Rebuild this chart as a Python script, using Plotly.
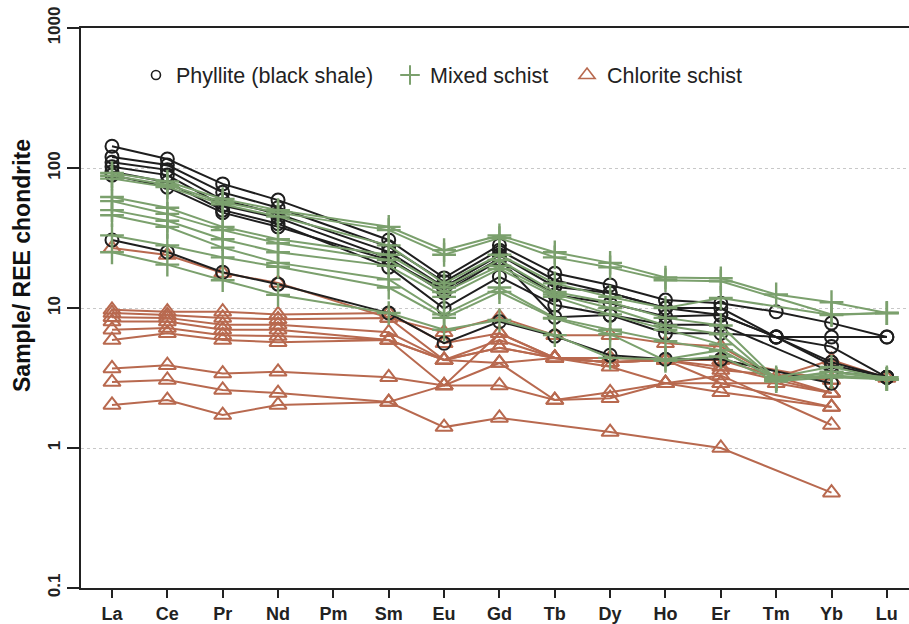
import plotly.graph_objects as go

elements = ["La", "Ce", "Pr", "Nd", "Pm", "Sm", "Eu", "Gd", "Tb", "Dy", "Ho", "Er", "Tm", "Yb", "Lu"]
x_pos = list(range(1, 16))

# Phyllite (black shale)
P1 = [143, 116, 77, 59, None, 30.6, 16.4, 28.1, 17.7, 14.6, 11.4, 10.8, 9.4, 7.8, 6.2]
P2 = [120, 105, 67, 52, None, 27.4, 15.4, 25.9, 15.8, 12.8, 10.0, 10.0, 6.2, 6.2, 6.2]
P3 = [110, 97, 59, 47, None, 25.2, 14.1, 23.9, 14.2, 12.8, 10.0, 8.9, 6.2, 5.3, 3.2]
P4 = [102, 89, 54, 44, None, 22.7, 12.8, 22.0, 12.4, 10.8, 8.7, 8.9, 6.2, 4.1, 3.2]
P5 = [94, 79, 50, 40, None, 19.6, 9.9, 16.7, 10.5, 8.9, 7.6, 7.6, None, 3.5, 3.2]
P6 = [89, 73, 48, 38, None, 22.0, 13.5, 22.5, 8.6, 8.9, 6.6, 6.6, 6.2, 3.9, 3.2]
P7 = [30.6, 25.1, 18.0, 14.8, None, 9.2, 5.6, 8.0, 6.3, 4.6, 4.3, 4.3, None, 2.9, None]
phyllite = [P1, P2, P3, P4, P5, P6, P7]

# Mixed schist
G1 = [92, 80, 60, 50, None, 38, 25.9, 33, 25, 21, 16.5, 16.3, 12.5, 11, 9.2]
G2 = [88, 76, 57, 48, None, 36, 24, 31.6, 23, 19.5, 15.8, 15.5, None, 9.0, 9.2]
G3 = [84, 73, 55, 45, None, 28, 15, 24, 15, 12, 10, 11.8, None, 8.9, 9.2]
G4 = [62, 52, 38, 31, None, 24, 14, 22, 13, 11, 8.5, 7.5, 3.1, 3.3, 3.1]
G5 = [58, 47, 36, 29, None, 22, 13, 20, 12.5, 10, 7.5, 6.5, 3.0, 3.5, 3.1]
G6 = [50, 42, 31, 25, None, 20, 12, 19, 12, 9, 7.0, 5.5, 3.2, 3.8, 3.1]
G7 = [46, 38, 27, 21, None, 16, 9, 14, 8.5, 7.0, 5.8, 5.0, 3.1, 3.5, 3.2]
G8 = [33, 28, 23, 19.7, None, 14, 8.5, 13, 8.4, 6.5, 4.2, 4.5, 3.0, 3.2, 3.1]
G9 = [25, 20.4, 15.8, 12.4, None, 9.2, 7.0, 8.2, 6.4, 4.4, 4.3, 5.0, 3.1, 3.3, 3.1]
mixed = [G1, G2, G3, G4, G5, G6, G7, G8, G9]

# Chlorite schist
C1 = [26.8, 23.9, 17.8, 15.1, None, 8.5, 6.7, 8.6, 6.4, 6.4, 5.6, 5.3, 3.2, 4.25, 3.16]
C2 = [9.7, 9.4, 9.4, 9.0, None, 9.2, 5.6, 6.6, 4.4, 4.1, 4.25, 4.25, None, 3.06, None]
C3 = [9.2, 8.9, 8.5, 8.3, None, 8.5, 4.25, 5.9, 4.4, 4.1, 4.25, 3.6, None, 3.06, None]
C4 = [8.6, 8.5, 7.6, 7.6, None, 6.7, 4.25, 5.2, 4.4, 4.4, 4.25, 3.8, None, 2.47, None]
C5 = [8.0, 8.0, 7.0, 7.0, None, 5.9, 4.25, 5.2, 4.4, 4.1, 4.25, 4.25, None, 2.47, None]
C6 = [7.0, 7.2, 6.4, 6.3, None, 5.9, 4.25, 4.05, 4.4, 4.1, 4.25, 2.9, None, 1.96, None]
C7 = [5.9, 6.6, 5.9, 5.7, None, 5.9, 2.8, 6.6, 4.4, 3.8, 2.9, 3.3, None, 1.46, None]
C8 = [3.7, 3.9, 3.4, 3.5, None, 3.2, 2.8, 4.05, 2.2, 2.27, 2.9, 2.9, 2.9, 2.47, None]
C9 = [2.96, 3.06, 2.6, 2.47, None, 2.13, 2.8, 2.8, 2.2, 2.5, 2.9, 2.5, None, 1.96, None]
C10 = [2.03, 2.2, 1.72, 2.03, None, 2.13, 1.41, 1.64, None, 1.3, None, 1.0, None, 0.48, None]
chlorite = [C1, C2, C3, C4, C5, C6, C7, C8, C9, C10]

y_tickvals = [0.1, 1, 10, 100, 1000]
y_ticktext = ["0.1", "1", "10", "100", "1000"]

BLACK = "#1e1e1e"
GREEN = "#7ba06d"
RUST = "#b8694f"

fig = go.Figure()

groups = [
    ("Chlorite schist", chlorite, RUST, "triangle-up-open", 15, 2.0),
    ("Phyllite (black shale)", phyllite, BLACK, "circle-open", 13, 2.0),
    ("Mixed schist", mixed, GREEN, "cross-thin-open", 17, 2.4),
]
for name, series, color, sym, size, mlw in groups:
    for s in series:
        fig.add_trace(go.Scatter(
            x=x_pos, y=s, mode="lines+markers", connectgaps=True,
            line=dict(color=color, width=2),
            marker=dict(symbol=sym, size=size, color=color, line=dict(color=color, width=mlw)),
            showlegend=False, hoverinfo="skip",
        ))

legend_items = [
    ("Phyllite (black shale)", BLACK, "circle-open", 9, 1.6, "legend", 0.0664),
    ("Mixed schist", GREEN, "cross-thin-open", 14, 2.0, "legend2", 0.3732),
    ("Chlorite schist", RUST, "triangle-up-open", 14, 1.6, "legend3", 0.5870),
]
legend_layouts = {}
for name, color, sym, size, lw, lg, lx in legend_items:
    fig.add_trace(go.Scatter(
        x=[None], y=[None], mode="markers", name=name, legend=lg,
        marker=dict(symbol=sym, size=size, color=color, line=dict(color=color, width=lw)),
    ))
    legend_layouts[lg] = dict(
        orientation="h", x=lx, y=0.916, xanchor="left", yanchor="middle",
        font=dict(size=21.5, color="#222"), bgcolor="rgba(0,0,0,0)", itemwidth=30,
    )

fig.update_layout(
    width=909, height=624,
    margin=dict(l=81, r=0, t=28, b=36),
    paper_bgcolor="white", plot_bgcolor="white",
    font=dict(family="Liberation Sans, Arial, sans-serif", color="#222"),
    **legend_layouts,
    xaxis=dict(
        range=[0.44, 15.4], tickmode="array", tickvals=x_pos, ticktext=elements,
        ticks="outside", ticklen=8, tickwidth=2, tickcolor="#222",
        showline=True, linecolor="#222", linewidth=2, mirror=True,
        showgrid=False, zeroline=False, automargin=False,
        tickfont=dict(size=18, color="#222", weight="bold"),
    ),
    yaxis=dict(
        type="log", range=[-1, 3], tickmode="array", tickvals=y_tickvals, ticktext=y_ticktext,
        ticks="outside", ticklen=12, tickwidth=2, tickcolor="#222", tickangle=-90,
        showline=True, linecolor="#222", linewidth=2, mirror=False,
        showgrid=True, gridcolor="#c8c8c8", griddash="dot", gridwidth=1.2,
        zeroline=False, automargin=False,
        tickfont=dict(size=17, color="#222", weight="bold"),
    ),
    annotations=[dict(
        text="Sample/ REE chondrite", textangle=-90, showarrow=False,
        xref="paper", yref="paper", x=0, y=0.575, xanchor="center", yanchor="middle",
        xshift=-59, font=dict(size=23, color="#111", weight="bold"),
    )],
)

fig.write_html(
    "out.html",
    config={"displayModeBar": False},
    post_script="document.body.style.margin='0';document.body.style.overflow='hidden';",
)
